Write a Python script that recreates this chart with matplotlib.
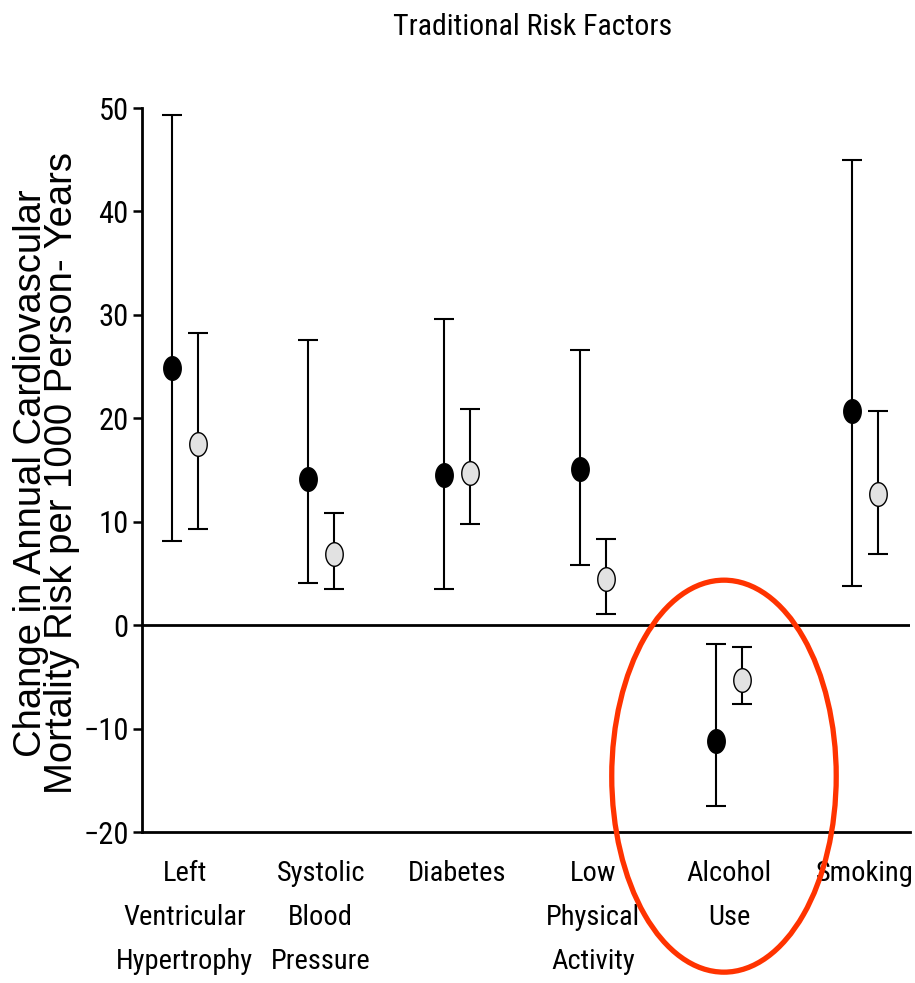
import numpy as np
import matplotlib
matplotlib.use('Agg')
import matplotlib.pyplot as plt
from matplotlib.path import Path
from matplotlib.patches import Ellipse

categories = ['Left\nVentricular\nHypertrophy', 'Systolic\nBlood\nPressure', 'Diabetes',
              'Low\nPhysical\nActivity', 'Alcohol\nUse', 'Smoking']
# black (first) estimate with 95% CI
black_mid = [24.9, 14.1, 14.5, 15.1, -11.2, 20.7]
black_low = [8.1, 4.1, 3.5, 5.8, -17.5, 3.8]
black_high = [49.3, 27.6, 29.6, 26.6, -1.8, 45.0]
# grey (second) estimate with 95% CI
grey_mid = [17.5, 6.9, 14.7, 4.5, -5.3, 12.7]
grey_low = [9.3, 3.5, 9.8, 1.1, -7.6, 6.9]
grey_high = [28.2, 10.8, 20.9, 8.3, -2.1, 20.7]
yticks = [-20, -10, 0, 10, 20, 30, 40, 50]

narrow = ['Roboto Condensed', 'Archivo Narrow', 'Liberation Sans']
regular = ['Liberation Sans', 'DejaVu Sans']

# slightly tall ellipse, the original figure is stretched vertically
t = np.linspace(0, 2 * np.pi, 60)
oval = Path(np.column_stack([0.37 * np.cos(t), 0.5 * np.sin(t)]), closed=True)

fig = plt.figure(figsize=(9.15, 9.83), dpi=100)
ax = fig.add_axes([0.155, 0.1536, 0.8395, 0.7365])

x = np.arange(len(categories))
off = 0.095

bm = np.array(black_mid)
gm = np.array(grey_mid)
ax.errorbar(x - off, bm, yerr=[bm - np.array(black_low), np.array(black_high) - bm],
            fmt='none', ecolor='black', elinewidth=1.5, capsize=7.5, capthick=1.5, zorder=2)
ax.errorbar(x + off, gm, yerr=[gm - np.array(grey_low), np.array(grey_high) - gm],
            fmt='none', ecolor='black', elinewidth=1.5, capsize=7.5, capthick=1.5, zorder=2)
ax.plot(x - off, bm, linestyle='none', marker=oval, markersize=17,
        markerfacecolor='black', markeredgecolor='black', zorder=3)
ax.plot(x + off, gm, linestyle='none', marker=oval, markersize=17,
        markerfacecolor='#e2e2e2', markeredgecolor='black', markeredgewidth=1.0, zorder=3)

ax.axhline(0, color='black', linewidth=2.0, zorder=1)

ax.set_xlim(-0.316, 5.33)
ax.set_ylim(-20, 50)
ax.set_yticks(yticks)
ax.set_yticklabels([str(v) if v >= 0 else '\u2212' + str(-v) for v in yticks],
                   fontsize=22, family=narrow)
ax.set_xticks(x)
ax.set_xticklabels(categories, fontsize=20.5, family=narrow, linespacing=1.82, va='top')
ax.tick_params(axis='x', length=0, pad=20)
ax.tick_params(axis='y', length=6.5, width=1.8, pad=3)

ax.spines['top'].set_visible(False)
ax.spines['right'].set_visible(False)
ax.spines['left'].set_linewidth(2.0)
ax.spines['bottom'].set_linewidth(2.0)

fig.text(0.5825, 0.9725, 'Traditional Risk Factors', fontsize=21.5, family=narrow,
         ha='center', va='center')
fig.text(0.051, 0.519, 'Change in Annual Cardiovascular\nMortality Risk per 1000 Person- Years',
         rotation=90, fontsize=27.5, family=regular, ha='center', va='center',
         multialignment='center', linespacing=0.8)

# red highlight around the alcohol category
ax.add_patch(Ellipse((x[4] - 0.037, -14.6), 1.65, 37.9, fill=False,
                     edgecolor='#ff3300', linewidth=3.8, clip_on=False, zorder=5))

fig.savefig('out.png', dpi=100)
